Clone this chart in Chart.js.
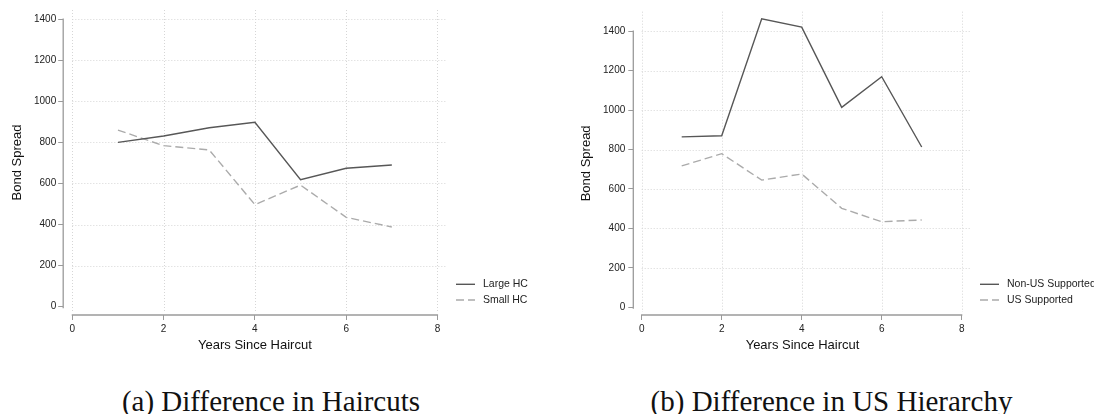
<!DOCTYPE html>
<html>
<head>
<meta charset="utf-8">
<script src="https://cdn.jsdelivr.net/npm/chart.js@4"></script>
<style>
  html, body { margin:0; padding:0; background:#fff; width:1094px; height:414px; overflow:hidden; }
  #wrap { position:relative; width:1094px; height:414px; }
  canvas { position:absolute; top:0; }
  .cap { position:absolute; font-family:"Liberation Serif","Times New Roman",serif; font-size:29px; line-height:29px; color:#111; white-space:nowrap; transform:translateX(-50%); }
</style>
</head>
<body>
<div id="wrap">
  <canvas id="cA" width="547" height="360" style="left:0px"></canvas>
  <canvas id="cB" width="547" height="360" style="left:547px"></canvas>
  <div class="cap" style="left:271px; top:387.2px">(a) Difference in Haircuts</div>
  <div class="cap" style="left:831.5px; top:387.2px">(b) Difference in US Hierarchy</div>
</div>
<script>
// ---- data ----
const years = [1, 2, 3, 4, 5, 6, 7];
const largeHC = [800, 831, 871, 898, 618, 674, 690];
const smallHC = [860, 784, 763, 497, 592, 435, 388];
const nonUS = [864, 870, 1463, 1421, 1014, 1169, 813];
const usSupported = [717, 779, 645, 676, 502, 434, 443];
const xTickValues = [0, 2, 4, 6, 8];
const yTickValues = [0, 200, 400, 600, 800, 1000, 1200, 1400];
const xTitle = 'Years Since Haircut';
const yTitle = 'Bond Spread';

Chart.defaults.font.family = '"Liberation Sans", Arial, Helvetica, sans-serif';
Chart.defaults.color = '#222';

const stataPlugin = {
  id: 'stata',
  beforeDatasetsDraw(chart) {
    const {ctx, chartArea} = chart;
    const xs = chart.scales.x, ys = chart.scales.y;
    ctx.save();
    // grid
    ctx.strokeStyle = '#d6d6d6';
    ctx.lineWidth = 1;
    ctx.setLineDash([1, 2]);
    const x0 = xs.getPixelForValue(xTickValues[0]);
    yTickValues.forEach(v => {
      if (v === 0) return;
      const py = Math.round(ys.getPixelForValue(v)) + 0.5;
      ctx.beginPath(); ctx.moveTo(x0, py); ctx.lineTo(chartArea.right, py); ctx.stroke();
    });
    xTickValues.forEach(v => {
      const px = Math.round(xs.getPixelForValue(v)) + 0.5;
      ctx.beginPath(); ctx.moveTo(px, chartArea.top); ctx.lineTo(px, chartArea.bottom - 3); ctx.stroke();
    });
    // axis lines
    ctx.setLineDash([]);
    ctx.strokeStyle = '#9a9a9a';
    ctx.lineWidth = 1.3;
    const by = chartArea.bottom;
    ctx.beginPath();
    ctx.moveTo(xs.getPixelForValue(xTickValues[0]) - 0.6, by);
    ctx.lineTo(xs.getPixelForValue(xTickValues[xTickValues.length - 1]) + 0.6, by);
    ctx.stroke();
    const lx = chartArea.left;
    ctx.beginPath();
    ctx.moveTo(lx, ys.getPixelForValue(yTickValues[yTickValues.length - 1]) - 0.6);
    ctx.lineTo(lx, ys.getPixelForValue(0) + 1.5);
    ctx.stroke();
    ctx.restore();
  },
  afterDraw(chart, args, opts) {
    const {ctx, chartArea} = chart;
    ctx.save();
    const lx = chartArea.right + opts.offset;
    chart.data.datasets.forEach((ds, i) => {
      const y = opts.rows[i];
      ctx.strokeStyle = ds.borderColor;
      ctx.lineWidth = ds.borderWidth;
      ctx.setLineDash(ds.borderDash || []);
      ctx.beginPath(); ctx.moveTo(lx, y); ctx.lineTo(lx + 19, y); ctx.stroke();
      ctx.setLineDash([]);
      ctx.fillStyle = '#222';
      ctx.font = '10.5px "Liberation Sans", Arial, sans-serif';
      ctx.textBaseline = 'middle';
      ctx.textAlign = 'left';
      ctx.fillText(ds.label, lx + 27, y);
    });
    ctx.restore();
  }
};

function makeChart(id, labels, s1, s2, cfg) {
  const toPts = arr => years.map((x, i) => ({x, y: arr[i]}));
  return new Chart(document.getElementById(id), {
    type: 'line',
    data: {
      datasets: [
        { label: labels[0], data: toPts(s1), borderColor: '#575757', borderWidth: 1.4, pointRadius: 0, tension: 0, fill: false },
        { label: labels[1], data: toPts(s2), borderColor: '#ababab', borderWidth: 1.4, borderDash: [8, 4], pointRadius: 0, tension: 0, fill: false }
      ]
    },
    options: {
      responsive: false,
      animation: false,
      devicePixelRatio: 1,
      layout: { padding: { left: 0, top: cfg.top, right: cfg.right, bottom: 0 } },
      plugins: {
        legend: { display: false },
        tooltip: { enabled: false },
        stata: { offset: cfg.legOffset, rows: [284.3, 300] }
      },
      scales: {
        x: {
          type: 'linear', min: cfg.xmin, max: cfg.xmax,
          afterBuildTicks: s => { s.ticks = xTickValues.map(v => ({value: v})); },
          afterFit: s => { s.height = 45; },
          ticks: { font: { size: 10 }, color: '#222', padding: 3, maxRotation: 0, callback: v => String(v) },
          grid: { display: true, drawOnChartArea: false, drawTicks: true, tickLength: 5, tickColor: '#9a9a9a', tickWidth: 1 },
          border: { display: false },
          title: { display: true, text: xTitle, font: { size: 13 }, color: '#111', padding: { top: 0, bottom: 6.4 } }
        },
        y: {
          type: 'linear', min: cfg.ymin, max: cfg.ymax,
          afterBuildTicks: s => { s.ticks = yTickValues.map(v => ({value: v})); },
          afterFit: s => { s.width = cfg.yWidth; },
          ticks: { font: { size: 10 }, color: '#222', padding: cfg.yPad, callback: v => String(v) },
          grid: { display: true, drawOnChartArea: false, drawTicks: true, tickLength: 5, tickColor: '#9a9a9a', tickWidth: 1 },
          border: { display: false },
          title: { display: true, text: yTitle, font: { size: 13 }, color: '#111', padding: { top: cfg.yTitlePad, bottom: 0 } }
        }
      }
    },
    plugins: [stataPlugin]
  });
}

makeChart('cA', ['Large HC', 'Small HC'], largeHC, smallHC, {
  top: 10, right: 100.4, yWidth: 63.2, xmin: -0.2, xmax: 8.2, ymin: -40.4, ymax: 1444.6,
  yPad: 2, yTitlePad: 9.7, legOffset: 9.4
});
makeChart('cB', ['Non-US Supported', 'US Supported'], nonUS, usSupported, {
  top: 11.7, right: 122.3, yWidth: 86.3, xmin: -0.21, xmax: 8.25, ymin: -39, ymax: 1499,
  yPad: 3, yTitlePad: 31.9, legOffset: 8.3
});
</script>
</body>
</html>
